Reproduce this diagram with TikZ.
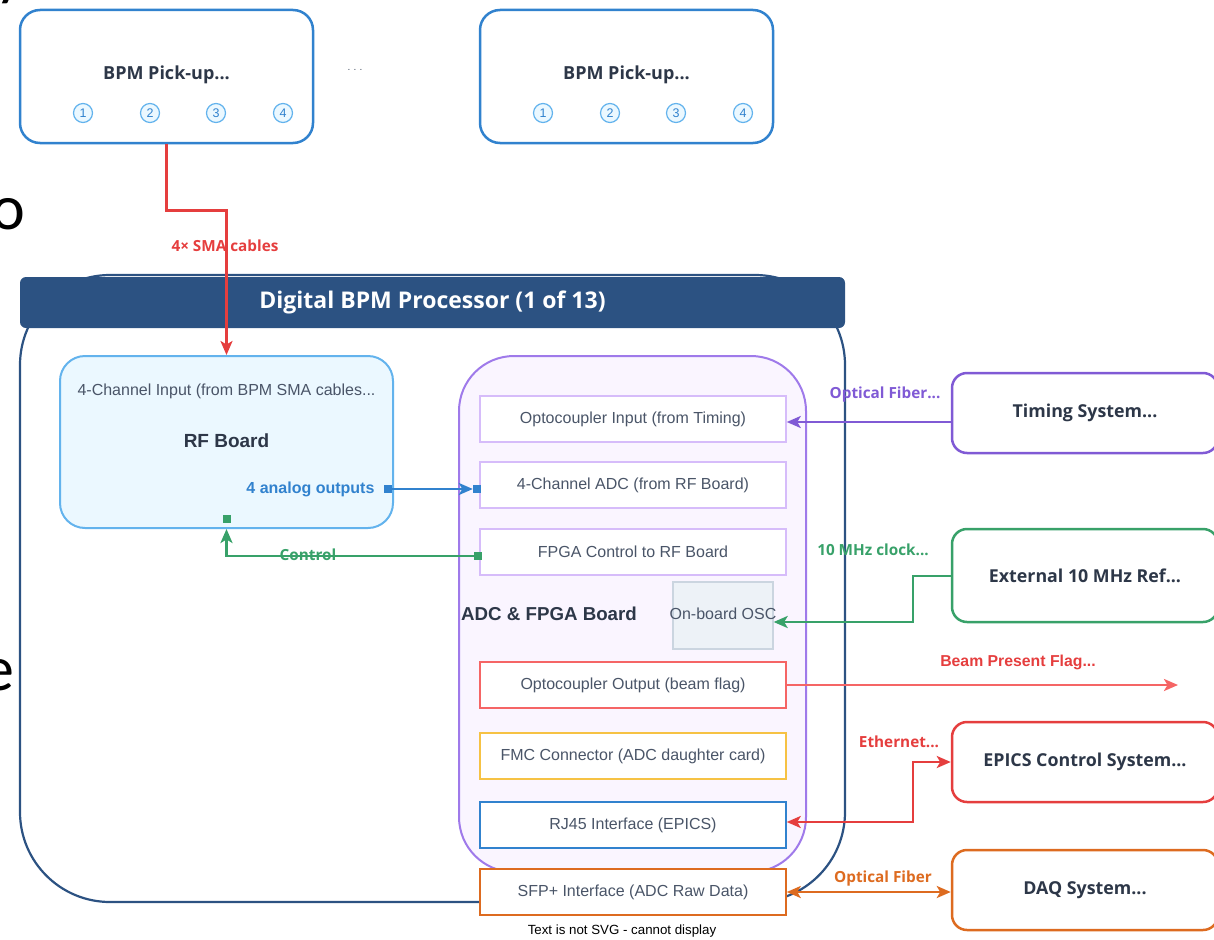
\documentclass[tikz,border=0pt]{standalone}
\usepackage{fontspec}
\setmainfont{Liberation Sans}
\newfontfamily\uifont{Open Sans}
\newfontfamily\calfont{Carlito}
\usetikzlibrary{arrows.meta,calc}

\definecolor{hdr}{HTML}{2C5282}
\definecolor{ink}{HTML}{2D3748}
\definecolor{grey}{HTML}{4A5568}
\definecolor{blu}{HTML}{3182CE}
\definecolor{lblu}{HTML}{63B3ED}
\definecolor{fblu}{HTML}{EBF8FF}
\definecolor{pur}{HTML}{805AD5}
\definecolor{lpur}{HTML}{D6BCFA}
\definecolor{fpur}{HTML}{FAF5FF}
\definecolor{mpur}{HTML}{9F7AEA}
\definecolor{grn}{HTML}{38A169}
\definecolor{red}{HTML}{E53E3E}
\definecolor{lred}{HTML}{F56565}
\definecolor{yel}{HTML}{F6C244}
\definecolor{org}{HTML}{DD6B20}
\definecolor{oscfill}{HTML}{EDF2F7}
\definecolor{oscline}{HTML}{CBD5E0}

\newcommand{\fs}[1]{\fontsize{#1}{#1}\selectfont}

\tikzset{
  pickup/.style={draw=blu, line width=2.5pt, rounded corners=20pt, fill=white,
    minimum width=293pt, minimum height=133pt},
  port/.style={circle, draw=lblu, fill=fblu, line width=1.2pt, minimum size=19pt,
    inner sep=0pt, text=blu, font=\fs{12.5}},
  title/.style={font=\uifont\bfseries\fs{18}, text=ink},
  part/.style={draw, fill=white, line width=1.5pt, minimum width=306pt,
    minimum height=46pt, inner sep=0pt, text=grey, font=\fs{16}},
  extbox/.style={draw, fill=white, line width=2.5pt, rounded corners=15pt,
    minimum width=266pt, minimum height=80pt, text=ink, font=\uifont\bfseries\fs{17.8}},
  wire/.style={line width=2.6pt, line join=miter},
  tip/.style={-{Stealth[length=14pt,width=12pt,inset=3.5pt]}},
  bitip/.style={{Stealth[length=14pt,width=12pt,inset=3.5pt]}-{Stealth[length=14pt,width=12pt,inset=3.5pt]}},
  lbl/.style={font=\uifont\bfseries\fs{15.3}},
  sq/.style={minimum size=8pt, inner sep=0pt},
}

\begin{document}
\begin{tikzpicture}[x=1pt,y=-1pt]
\useasboundingbox (0,0) rectangle (1214,939);

% large letters at the left margin
\node[anchor=base east, inner sep=0pt, font=\calfont\fs{64}] at (25,-6) {y};
\node[anchor=base east, inner sep=0pt, font=\calfont\fs{64}] at (25,229) {o};
\node[anchor=base east, inner sep=0pt, font=\calfont\fs{64}] at (15,690) {e};

% pick-up units
\node[pickup] (p1) at (166.5,76.5) {};
\node[title] at (166.5,75) {BPM Pick-up...};
\foreach \n/\x in {1/83,2/150,3/216,4/283}
  \node[port] (pa\n) at (\x,113) {\n};
\node[text=grey, font=\fs{10}] (dots) at (355,70) {.\,\,.\,\,.};
\node[pickup] (p2) at (626.5,76.5) {};
\node[title] at (626.5,75) {BPM Pick-up...};
\foreach \n/\x in {1/543,2/610,3/676,4/743}
  \node[port] (pb\n) at (\x,113) {\n};

% processor enclosure and its title bar
\draw[hdr, line width=2.2pt, rounded corners=90pt] (20,275) rectangle (845,902);
\node[fill=hdr, rounded corners=6pt, minimum width=825pt, minimum height=51pt,
      text=white, font=\uifont\bfseries\fs{23}] (hd) at (432.5,302.5)
      {Digital BPM Processor (1 of 13)};

% RF board
\node[draw=lblu, fill=fblu, line width=2pt, rounded corners=25pt,
      minimum width=333pt, minimum height=172pt] (rf) at (226.5,442) {};
\node[text=grey, font=\fs{16}] at (226.5,391) {4-Channel Input (from BPM SMA cables...};
\node[text=ink, font=\bfseries\fs{19}] at (226.5,441) {RF Board};
\node[anchor=east, text=blu, font=\bfseries\fs{16}] at (378,489) {4 analog outputs};

% ADC & FPGA board
\node[draw=mpur, fill=fpur, line width=2pt, rounded corners=55pt,
      minimum width=347pt, minimum height=516pt] (adc) at (632.5,614) {};
\node[part, draw=lpur] (oin)  at (633,419) {Optocoupler Input (from Timing)};
\node[part, draw=lpur] (adcin) at (633,485) {4-Channel ADC (from RF Board)};
\node[part, draw=lpur] (fpga) at (633,552) {FPGA Control to RF Board};
\node[draw=oscline, fill=oscfill, line width=1.3pt, minimum width=100pt,
      minimum height=67pt] (osc) at (723,615.5) {};
\node[text=grey, font=\fs{16}] at (723,614) {On-board OSC};
\node[text=ink, font=\bfseries\fs{18.7}] at (549,614) {ADC \& FPGA Board};
\node[part, draw=lred] (oout) at (633,685) {Optocoupler Output (beam flag)};
\node[part, draw=yel]  (fmc)  at (633,756) {FMC Connector (ADC daughter card)};
\node[part, draw=blu]  (rj)   at (633,825) {RJ45 Interface (EPICS)};
\node[part, draw=org]  (sfp)  at (633,892) {SFP+ Interface (ADC Raw Data)};
\node[font=\fs{13.3}] (note) at (622,931) {Text is not SVG - cannot display};

% external systems
\node[extbox, draw=pur] (tim)  at (1085,413) {Timing System...};
\node[extbox, draw=grn, minimum height=93pt] (ref) at (1085,575.5) {External 10 MHz Ref...};
\node[extbox, draw=red] (epics) at (1085,762) {EPICS Control System...};
\node[extbox, draw=org] (daq)  at (1085,890) {DAQ System...};

% pick-up cables into the RF board
\draw[wire, red, tip] (p1.south) -- ++(0,66) -| (rf.north);
\node[lbl, text=red] at (225,246) {4× SMA cables};

% analog outputs RF -> ADC
\node[sq, fill=blu] (s1) at (388,489) {};
\node[sq, fill=blu] (s2) at (477,489) {};
\draw[wire, blu, tip] (s1) -- (s2);

% control path FPGA -> RF
\node[sq, fill=grn] (g1) at (226.5,519) {};
\node[sq, fill=grn] (g2) at (478,556) {};
\draw[wire, grn, tip] (g2) -| (rf.south);
\node[lbl, text=grn] at (308,555) {Control};

% timing fiber
\draw[wire, pur, tip] (tim.west |- 0,422) -- (oin.east |- 0,422);
\node[lbl, text=pur] at (885,395) {Optical Fiber...};

% external clock reference
\draw[wire, grn, tip] (ref.west |- 0,576) -- (913,576) |- ($(osc.east)+(0,6.5)$);
\node[lbl, text=grn] at (873,550) {10 MHz clock...};

% beam present flag
\coordinate (flagend) at (1178,685);
\draw[wire, lred, tip] (oout.east) -- (flagend);
\node[font=\bfseries\fs{15.8}, text=red] at (1018,662) {Beam Present Flag...};

% EPICS ethernet
\draw[wire, red, bitip] (rj.east |- 0,822) -- (913,822) |- (epics.west);
\node[lbl, text=red] at (899,742) {Ethernet...};

% raw data fiber
\draw[wire, org, bitip] (sfp.east) -- (daq.west |- 0,892);
\node[lbl, text=org] at (883,879) {Optical Fiber};
\end{tikzpicture}
\end{document}
